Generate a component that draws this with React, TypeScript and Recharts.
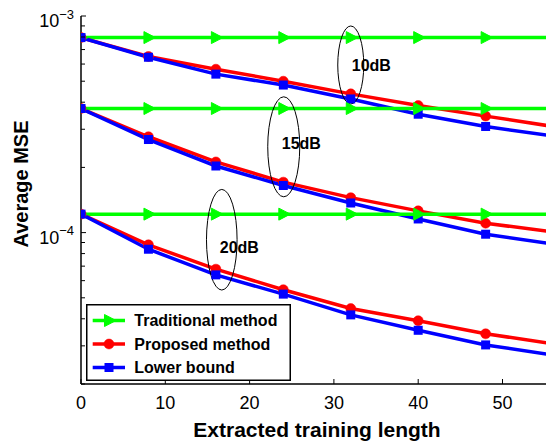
import { LineChart, Line, XAxis, YAxis, Legend, ReferenceDot } from 'recharts';

const FONT = '"Liberation Sans", Arial, Helvetica, sans-serif';

// extracted training length (markers every 8)
const X = [0, 8, 16, 24, 32, 40, 48, 56];

// 10dB
const trad10 = [7.95e-4, 7.95e-4, 7.95e-4, 7.95e-4, 7.95e-4, 7.95e-4, 7.95e-4, 7.95e-4];
const prop10 = [7.95e-4, 6.5e-4, 5.68e-4, 5.0e-4, 4.37e-4, 3.86e-4, 3.45e-4, 3.09e-4];
const lb10 = [7.95e-4, 6.45e-4, 5.39e-4, 4.8e-4, 4.14e-4, 3.52e-4, 3.09e-4, 2.79e-4];

// 15dB
const trad15 = [3.74e-4, 3.74e-4, 3.74e-4, 3.74e-4, 3.74e-4, 3.74e-4, 3.74e-4, 3.74e-4];
const prop15 = [3.74e-4, 2.77e-4, 2.12e-4, 1.71e-4, 1.45e-4, 1.26e-4, 1.105e-4, 1.007e-4];
const lb15 = [3.74e-4, 2.69e-4, 2.03e-4, 1.65e-4, 1.37e-4, 1.156e-4, 9.83e-5, 8.85e-5];

// 20dB
const trad20 = [1.217e-4, 1.217e-4, 1.217e-4, 1.217e-4, 1.217e-4, 1.217e-4, 1.217e-4, 1.217e-4];
const prop20 = [1.217e-4, 8.78e-5, 6.78e-5, 5.45e-5, 4.46e-5, 3.92e-5, 3.41e-5, 3.07e-5];
const lb20 = [1.217e-4, 8.38e-5, 6.38e-5, 5.2e-5, 4.17e-5, 3.54e-5, 3.03e-5, 2.72e-5];

const X_TICKS = [0, 10, 20, 30, 40, 50];
const Y_TICKS = [
  2e-5, 3e-5, 4e-5, 5e-5, 6e-5, 7e-5, 8e-5, 9e-5,
  1e-4, 2e-4, 3e-4, 4e-4, 5e-4, 6e-4, 7e-4, 8e-4, 9e-4, 1e-3,
];

// SNR annotations (ellipse centre in data units)
const SNR_LABELS = ['10dB', '15dB', '20dB'];
const SNR_X = [32.0, 24.05, 16.7];
const SNR_Y = [5.94e-4, 2.49e-4, 9.27e-5];

const LEGEND_NAMES = ['Traditional method', 'Proposed method', 'Lower bound'];

const GREEN = '#00ff00';
const RED = '#ff0000';
const BLUE = '#0000ff';

const data = X.map((x, i) => ({
  x,
  trad10: trad10[i], prop10: prop10[i], lb10: lb10[i],
  trad15: trad15[i], prop15: prop15[i], lb15: lb15[i],
  trad20: trad20[i], prop20: prop20[i], lb20: lb20[i],
}));

function Tri({ cx, cy, color }: { cx: number; cy: number; color: string }) {
  return <polygon points={`${cx - 4.5},${cy - 6} ${cx + 7},${cy} ${cx - 4.5},${cy + 6}`} fill={color} stroke={color} strokeWidth={1} />;
}
function Circ({ cx, cy, color }: { cx: number; cy: number; color: string }) {
  return <circle cx={cx} cy={cy} r={5} fill={color} stroke={color} strokeWidth={0.5} />;
}
function Sq({ cx, cy, color }: { cx: number; cy: number; color: string }) {
  return <rect x={cx - 4.5} y={cy - 4.5} width={9} height={9} fill={color} />;
}

// eslint-disable-next-line @typescript-eslint/no-explicit-any
const triDot = (p: any) => <Tri key={`t${p.index}`} cx={p.cx} cy={p.cy} color={GREEN} />;
// eslint-disable-next-line @typescript-eslint/no-explicit-any
const circDot = (p: any) => <Circ key={`c${p.index}`} cx={p.cx} cy={p.cy} color={RED} />;
// eslint-disable-next-line @typescript-eslint/no-explicit-any
const sqDot = (p: any) => <Sq key={`s${p.index}`} cx={p.cx} cy={p.cy} color={BLUE} />;

// eslint-disable-next-line @typescript-eslint/no-explicit-any
function XTick({ x, y, payload }: any) {
  return (
    <g>
      <line x1={x} y1={y} x2={x} y2={y - 5} stroke="#000" strokeWidth={1} />
      <text x={x} y={y + 25} textAnchor="middle" fontSize={18} fontFamily={FONT} fill="#000">
        {payload.value}
      </text>
    </g>
  );
}

// eslint-disable-next-line @typescript-eslint/no-explicit-any
function TopTick({ x, y }: any) {
  return <line x1={x} y1={y} x2={x} y2={y + 5} stroke="#000" strokeWidth={1} />;
}

// eslint-disable-next-line @typescript-eslint/no-explicit-any
function YTick({ x, y, payload }: any) {
  const lg = Math.log10(payload.value);
  const exp = Math.round(lg);
  const major = Math.abs(lg - exp) < 1e-6;
  return (
    <g>
      <line x1={x} y1={y} x2={x + (major ? 5 : 4)} y2={y} stroke="#000" strokeWidth={1} />
      {major && (
        <text x={x - 7} y={y + 11} textAnchor="end" fontSize={18} fontFamily={FONT} fill="#000">
          10
          <tspan dy={-8.5} fontSize={13}>{'\u2212' + Math.abs(exp)}</tspan>
        </text>
      )}
    </g>
  );
}

// label offsets / ellipse radii in px
const ELL = [
  { rx: 13, ry: 39, dx: 1, dy: 6 },
  { rx: 16, ry: 50, dx: -2, dy: 2 },
  { rx: 15.3, ry: 50.3, dx: -2, dy: 13 },
];

function snrShape(i: number) {
  // eslint-disable-next-line @typescript-eslint/no-explicit-any
  return (p: any) => (
    <g>
      <ellipse cx={p.cx} cy={p.cy} rx={ELL[i].rx} ry={ELL[i].ry} fill="none" stroke="#000" strokeWidth={1} />
      <text x={p.cx + ELL[i].dx} y={p.cy + ELL[i].dy} fontSize={16} fontWeight="bold" fontFamily={FONT} fill="#000">
        {SNR_LABELS[i]}
      </text>
    </g>
  );
}

function LegendBox() {
  const colors = [GREEN, RED, BLUE];
  const rows = [16.5, 40, 63.5];
  return (
    <svg width={205} height={77} style={{ display: 'block' }}>
      <rect x={0.75} y={0.75} width={203.5} height={75.5} fill="#fff" stroke="#000" strokeWidth={1.5} />
      {LEGEND_NAMES.map((name, i) => {
        const cy = rows[i];
        return (
          <g key={name}>
            <line x1={6.7} y1={cy} x2={39} y2={cy} stroke={colors[i]} strokeWidth={3.5} />
            {i === 0 && <Tri cx={23} cy={cy} color={GREEN} />}
            {i === 1 && <Circ cx={23} cy={cy} color={RED} />}
            {i === 2 && <Sq cx={23} cy={cy} color={BLUE} />}
            <text x={48.3} y={cy + 5.7} fontSize={16} fontWeight="bold" fontFamily={FONT} fill="#000">
              {name}
            </text>
          </g>
        );
      })}
    </svg>
  );
}

const lineProps = { type: 'linear' as const, strokeWidth: 3.5, isAnimationActive: false, activeDot: false as const, legendType: 'none' as const };

export default function App() {
  return (
    <div style={{ position: 'absolute', left: 0, top: 0, width: 546, height: 443, background: '#fff', fontFamily: FONT }}>
      <LineChart width={546} height={443} data={data} margin={{ top: 16, right: 0, bottom: 0, left: 0 }}>
        <XAxis
          dataKey="x"
          type="number"
          domain={[0, 55.16]}
          allowDataOverflow
          ticks={X_TICKS}
          interval={0}
          height={59}
          tickSize={0}
          tickMargin={0}
          tickLine={false}
          tick={<XTick />}
          axisLine={{ stroke: '#000', strokeWidth: 1.5 }}
          label={{
            content: () => (
              <text x={317} y={437} textAnchor="middle" fontSize={21} fontWeight="bold" fontFamily={FONT} fill="#000">
                Extracted training length
              </text>
            ),
          }}
        />
        <XAxis
          xAxisId="top"
          orientation="top"
          dataKey="x"
          type="number"
          domain={[0, 55.16]}
          allowDataOverflow
          ticks={X_TICKS}
          interval={0}
          height={0}
          tickSize={0}
          tickMargin={0}
          tickLine={false}
          tick={<TopTick />}
          axisLine={{ stroke: '#000', strokeWidth: 1.5 }}
        />
        <YAxis
          type="number"
          scale="log"
          domain={[2e-5, 1e-3]}
          allowDataOverflow
          ticks={Y_TICKS}
          interval={0}
          width={81}
          tickSize={0}
          tickMargin={0}
          tickLine={false}
          tick={<YTick />}
          axisLine={{ stroke: '#000', strokeWidth: 1.5 }}
          label={{
            content: () => (
              <text
                x={28}
                y={184}
                transform="rotate(-90 28 184)"
                textAnchor="middle"
                fontSize={20}
                fontWeight="bold"
                fontFamily={FONT}
                fill="#000"
              >
                Average MSE
              </text>
            ),
          }}
        />

        <Line dataKey="trad10" stroke={GREEN} dot={triDot} {...lineProps} />
        <Line dataKey="prop10" stroke={RED} dot={circDot} {...lineProps} />
        <Line dataKey="lb10" stroke={BLUE} dot={sqDot} {...lineProps} />
        <Line dataKey="trad15" stroke={GREEN} dot={triDot} {...lineProps} />
        <Line dataKey="prop15" stroke={RED} dot={circDot} {...lineProps} />
        <Line dataKey="lb15" stroke={BLUE} dot={sqDot} {...lineProps} />
        <Line dataKey="trad20" stroke={GREEN} dot={triDot} {...lineProps} />
        <Line dataKey="prop20" stroke={RED} dot={circDot} {...lineProps} />
        <Line dataKey="lb20" stroke={BLUE} dot={sqDot} {...lineProps} />

        {SNR_LABELS.map((lbl, i) => (
          <ReferenceDot key={lbl} x={SNR_X[i]} y={SNR_Y[i]} r={1} shape={snrShape(i)} />
        ))}

        <Legend
          layout="vertical"
          align="center"
          verticalAlign="middle"
          content={() => <LegendBox />}
          wrapperStyle={{ left: 86, top: 304, width: 205, height: 77 }}
        />
      </LineChart>
    </div>
  );
}
